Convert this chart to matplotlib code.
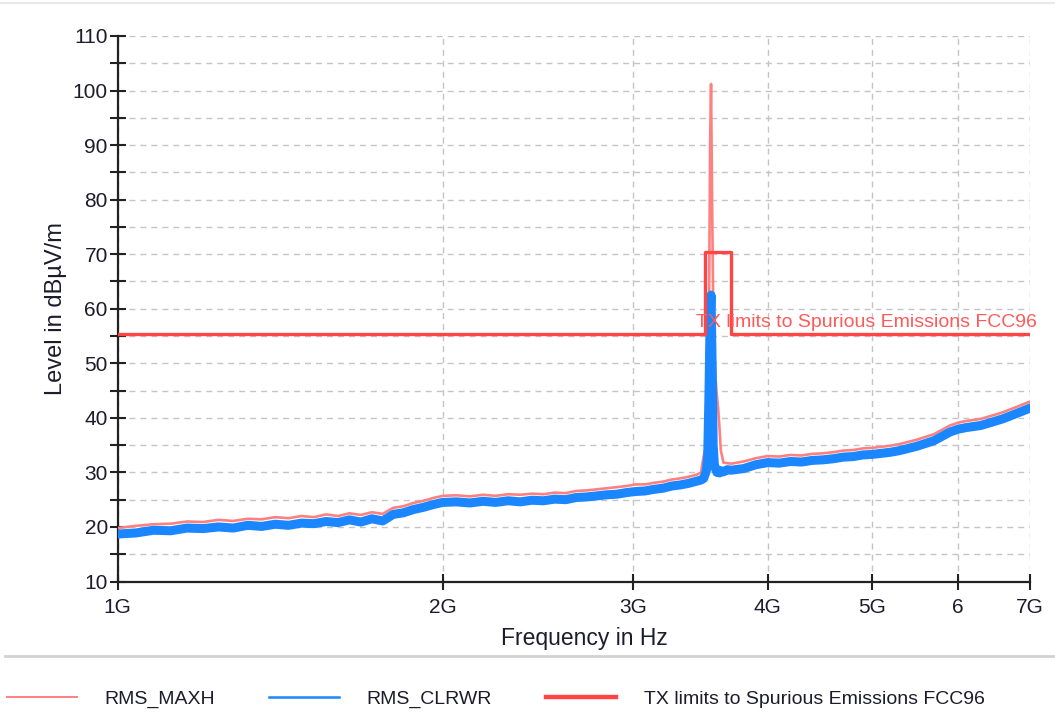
import matplotlib
matplotlib.use("Agg")
import matplotlib.pyplot as plt
from matplotlib.lines import Line2D
from matplotlib.ticker import FixedLocator, NullLocator, MultipleLocator

plt.rcParams['font.family'] = ['Liberation Sans', 'DejaVu Sans']

# frequency grid in GHz
freq_ghz = [1.00, 1.04, 1.08, 1.12, 1.16, 1.20, 1.24, 1.28, 1.32, 1.36,
            1.40, 1.44, 1.48, 1.52, 1.56, 1.60, 1.64, 1.68, 1.72, 1.76,
            1.80, 1.84, 1.88, 1.92, 1.96, 2.00,
            2.06, 2.12, 2.18, 2.24, 2.30, 2.36, 2.42, 2.48, 2.54, 2.60,
            2.66, 2.72, 2.78, 2.84, 2.90, 2.96, 3.02, 3.08, 3.14, 3.20,
            3.26, 3.32, 3.38, 3.44,
            3.47, 3.49, 3.51, 3.52, 3.53, 3.538, 3.545, 3.553, 3.561, 3.57,
            3.58, 3.59, 3.60, 3.61, 3.62, 3.64, 3.67,
            3.7, 3.8, 3.9, 4.0, 4.1, 4.2, 4.3, 4.4, 4.5, 4.6,
            4.7, 4.8, 4.9, 5.0, 5.1, 5.2, 5.3, 5.4, 5.5, 5.6,
            5.7, 5.8, 5.9, 6.0, 6.1, 6.2, 6.3, 6.4, 6.5, 6.6,
            6.7, 6.8, 6.9, 7.0]

# RMS_CLRWR trace (dBuV/m)
clrwr = [18.7, 18.9, 19.4, 19.3, 19.8, 19.7, 20.0, 19.8, 20.3, 20.1,
         20.5, 20.3, 20.7, 20.6, 21.0, 20.8, 21.3, 20.9, 21.5, 21.1,
         22.3, 22.6, 23.2, 23.6, 24.1, 24.5,
         24.6, 24.4, 24.7, 24.5, 24.8, 24.6, 24.9, 24.8, 25.1, 25.0,
         25.4, 25.5, 25.7, 25.9, 26.0, 26.3, 26.5, 26.6, 26.9, 27.1,
         27.5, 27.7, 28.0, 28.4,
         28.6, 28.9, 30.3, 33.0, 45.0, 58.0, 62.5, 50.0, 35.0, 31.5,
         30.6, 30.0, 30.4, 29.9, 30.3, 30.1, 30.5,
         30.4, 30.7, 31.4, 31.8, 31.7, 32.0, 31.9, 32.2, 32.3, 32.5,
         32.8, 32.9, 33.2, 33.3, 33.5, 33.7, 34.0, 34.4, 34.8, 35.3,
         35.8, 36.6, 37.4, 37.9, 38.2, 38.4, 38.6, 39.0, 39.4, 39.8,
         40.3, 40.8, 41.3, 41.8]

# RMS_MAXH trace (dBuV/m)
maxh = [19.8, 20.2, 20.5, 20.6, 21.0, 20.9, 21.3, 21.1, 21.5, 21.4,
        21.8, 21.6, 22.0, 21.8, 22.3, 22.0, 22.5, 22.2, 22.7, 22.4,
        23.5, 23.8, 24.4, 24.8, 25.3, 25.7,
        25.8, 25.6, 25.9, 25.7, 26.0, 25.9, 26.1, 26.0, 26.3, 26.2,
        26.6, 26.7, 26.9, 27.1, 27.3, 27.5, 27.8, 27.8, 28.1, 28.3,
        28.7, 28.9, 29.2, 29.6,
        30.0, 33.0, 35.0, 38.0, 60.0, 90.0, 101.2, 80.0, 62.0, 52.0,
        47.0, 44.0, 41.5, 38.0, 34.0, 31.8, 31.7,
        31.6, 32.0, 32.6, 33.0, 32.9, 33.2, 33.1, 33.4, 33.5, 33.7,
        34.0, 34.1, 34.4, 34.5, 34.7, 34.9, 35.2, 35.6, 36.0, 36.5,
        37.0, 37.8, 38.6, 39.1, 39.4, 39.6, 39.8, 40.2, 40.6, 41.0,
        41.5, 42.0, 42.5, 43.0]

# limit line
limit_freq = [1.0, 3.5, 3.5, 3.7, 3.7, 7.0]
limit_level = [55.4, 55.4, 70.4, 70.4, 55.4, 55.4]
limit_name = "TX limits to Spurious Emissions FCC96"

x_ticks = [1, 2, 3, 4, 5, 6, 7]
x_tick_labels = ["1G", "2G", "3G", "4G", "5G", "6", "7G"]

txt_col = "#1c1c2c"

fig = plt.figure(figsize=(10.55, 7.15), dpi=100)
ax = fig.add_axes([0.1114, 0.1867, 0.865, 0.763])

l1, = ax.plot(freq_ghz, maxh, color="#ff8080", lw=1.9, label="RMS_MAXH", zorder=3)
l2, = ax.plot(freq_ghz, clrwr, color="#1a86ff", lw=6.5, label="RMS_CLRWR", zorder=4)
l3, = ax.plot(limit_freq, limit_level, color="#ff4444", lw=2.4, label=limit_name, zorder=5)
ax.text(3.43, 55.9, limit_name, color="#ff5a5a", fontsize=14,
        ha="left", va="bottom", clip_on=False, zorder=6)

ax.set_xscale("log")
ax.set_xlim(1, 7)
ax.set_ylim(10, 110)
ax.xaxis.set_major_locator(FixedLocator(x_ticks))
ax.xaxis.set_minor_locator(NullLocator())
ax.set_xticklabels(x_tick_labels)
ax.yaxis.set_major_locator(MultipleLocator(10))
ax.yaxis.set_minor_locator(MultipleLocator(5))

ax.grid(which="both", color="#c4c4c4", ls=(0, (4.3, 3.6)), lw=1.0, zorder=0)
ax.set_axisbelow(True)
for s in ["top", "right"]:
    ax.spines[s].set_visible(False)
for s in ["left", "bottom"]:
    ax.spines[s].set_linewidth(1.6)
    ax.spines[s].set_color("#222222")

ax.tick_params(which="both", direction="inout", length=12, width=1.5,
               color="#222222", labelsize=15, labelcolor=txt_col)
ax.tick_params(axis="y", pad=1)
ax.tick_params(axis="x", pad=6)

ax.set_xlabel("Frequency in Hz", fontsize=16.5, color=txt_col, labelpad=7)
ax.xaxis.label.set_x(0.512)
ax.set_ylabel("Level in dB\u00b5V/m", fontsize=17, color=txt_col, labelpad=4)

# frame lines of the report page
fig.add_artist(Line2D([0, 1], [1 - 3 / 715] * 2, color="#e8e8e8", lw=1.5))
fig.add_artist(Line2D([0.005, 1], [1 - 656 / 715] * 2, color="#d2d2d2", lw=2))

leg = fig.legend(handles=[l1, l2, l3], loc="center left",
                 bbox_to_anchor=(7 / 1055, 1 - 699 / 715), ncol=3,
                 frameon=False, fontsize=14, handlelength=3.6,
                 handletextpad=1.4, columnspacing=2.8,
                 borderpad=0, borderaxespad=0)
for t in leg.get_texts():
    t.set_color(txt_col)
leg.get_lines()[1].set_linewidth(1.8)
leg.get_lines()[0].set_linewidth(1.4)
leg.get_lines()[2].set_linewidth(3.2)

fig.savefig("out.png", dpi=100)
